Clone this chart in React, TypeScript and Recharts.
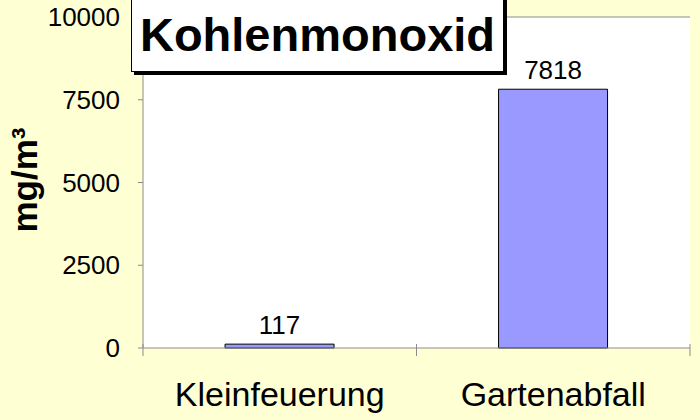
import React from 'react';
import { BarChart, Bar, XAxis, YAxis, CartesianGrid, LabelList, ReferenceLine } from 'recharts';

const categories = ['Kleinfeuerung', 'Gartenabfall'];
const values = [117, 7818];
const yTicks = [0, 2500, 5000, 7500, 10000];

const data = categories.map((name, i) => ({ name, value: values[i] }));

const FONT = '"Liberation Sans", Arial, sans-serif';
const AXIS = '#8c8c8c';

const CategoryTick = (props: any) => {
  const { x, y, payload, index } = props;
  const half = payload.offset || 0;
  const top = y - 12;
  return (
    <g>
      <line x1={x - half} y1={top} x2={x - half} y2={top + 12} stroke={AXIS} />
      {index === categories.length - 1 && (
        <line x1={x + half} y1={top} x2={x + half} y2={top + 12} stroke={AXIS} />
      )}
      <text x={x} y={top + 62} textAnchor="middle" fontSize={34} fontFamily={FONT} fill="#000">
        {payload.value}
      </text>
    </g>
  );
};

const App: React.FC = () => {
  return (
    <div style={{ position: 'absolute', left: 0, top: 0, width: 700, height: 420, background: '#FFFFD4', overflow: 'hidden' }}>
      <BarChart width={700} height={420} data={data} margin={{ top: 17, right: 10, left: 0, bottom: 0 }} barCategoryGap="30%">
        <CartesianGrid fill="#fff" horizontal={false} vertical={false} />
        <XAxis dataKey="name" axisLine={{ stroke: AXIS }} tickLine={false} tick={<CategoryTick />} height={72} interval={0} />
        <YAxis
          domain={[0, 10000]}
          ticks={yTicks}
          width={143}
          axisLine={{ stroke: AXIS }}
          tickLine={{ stroke: AXIS }}
          tickSize={5}
          tickMargin={18}
          tick={{ fontSize: 26, fontFamily: FONT, fill: '#000' }}
          label={{
            content: () => (
              <text x={37} y={180} transform="rotate(-90 37 180)" textAnchor="middle" fontSize={35} fontWeight="bold" fontFamily={FONT} fill="#000">
                mg/m³
              </text>
            ),
          }}
        />
        <YAxis yAxisId="right" orientation="right" width={0} axisLine={{ stroke: AXIS }} tick={false} tickLine={false} />
        <ReferenceLine y={10000} stroke={AXIS} />
        <Bar dataKey="value" fill="#9999FF" stroke="#000" strokeWidth={1} isAnimationActive={false}>
          <LabelList dataKey="value" position="top" offset={10} fontSize={26} fontFamily={FONT} fill="#000" />
        </Bar>
      </BarChart>
      <div
        style={{
          position: 'absolute',
          left: 131,
          top: -4,
          width: 371,
          height: 74,
          background: '#fff',
          border: '1px solid #000',
          boxShadow: '3px 3px 0 #000',
          display: 'flex',
          alignItems: 'center',
          justifyContent: 'center',
          fontFamily: FONT,
          fontWeight: 'bold',
          fontSize: 47,
          color: '#000',
        }}
      >
        Kohlenmonoxid
      </div>
    </div>
  );
};

export default App;
